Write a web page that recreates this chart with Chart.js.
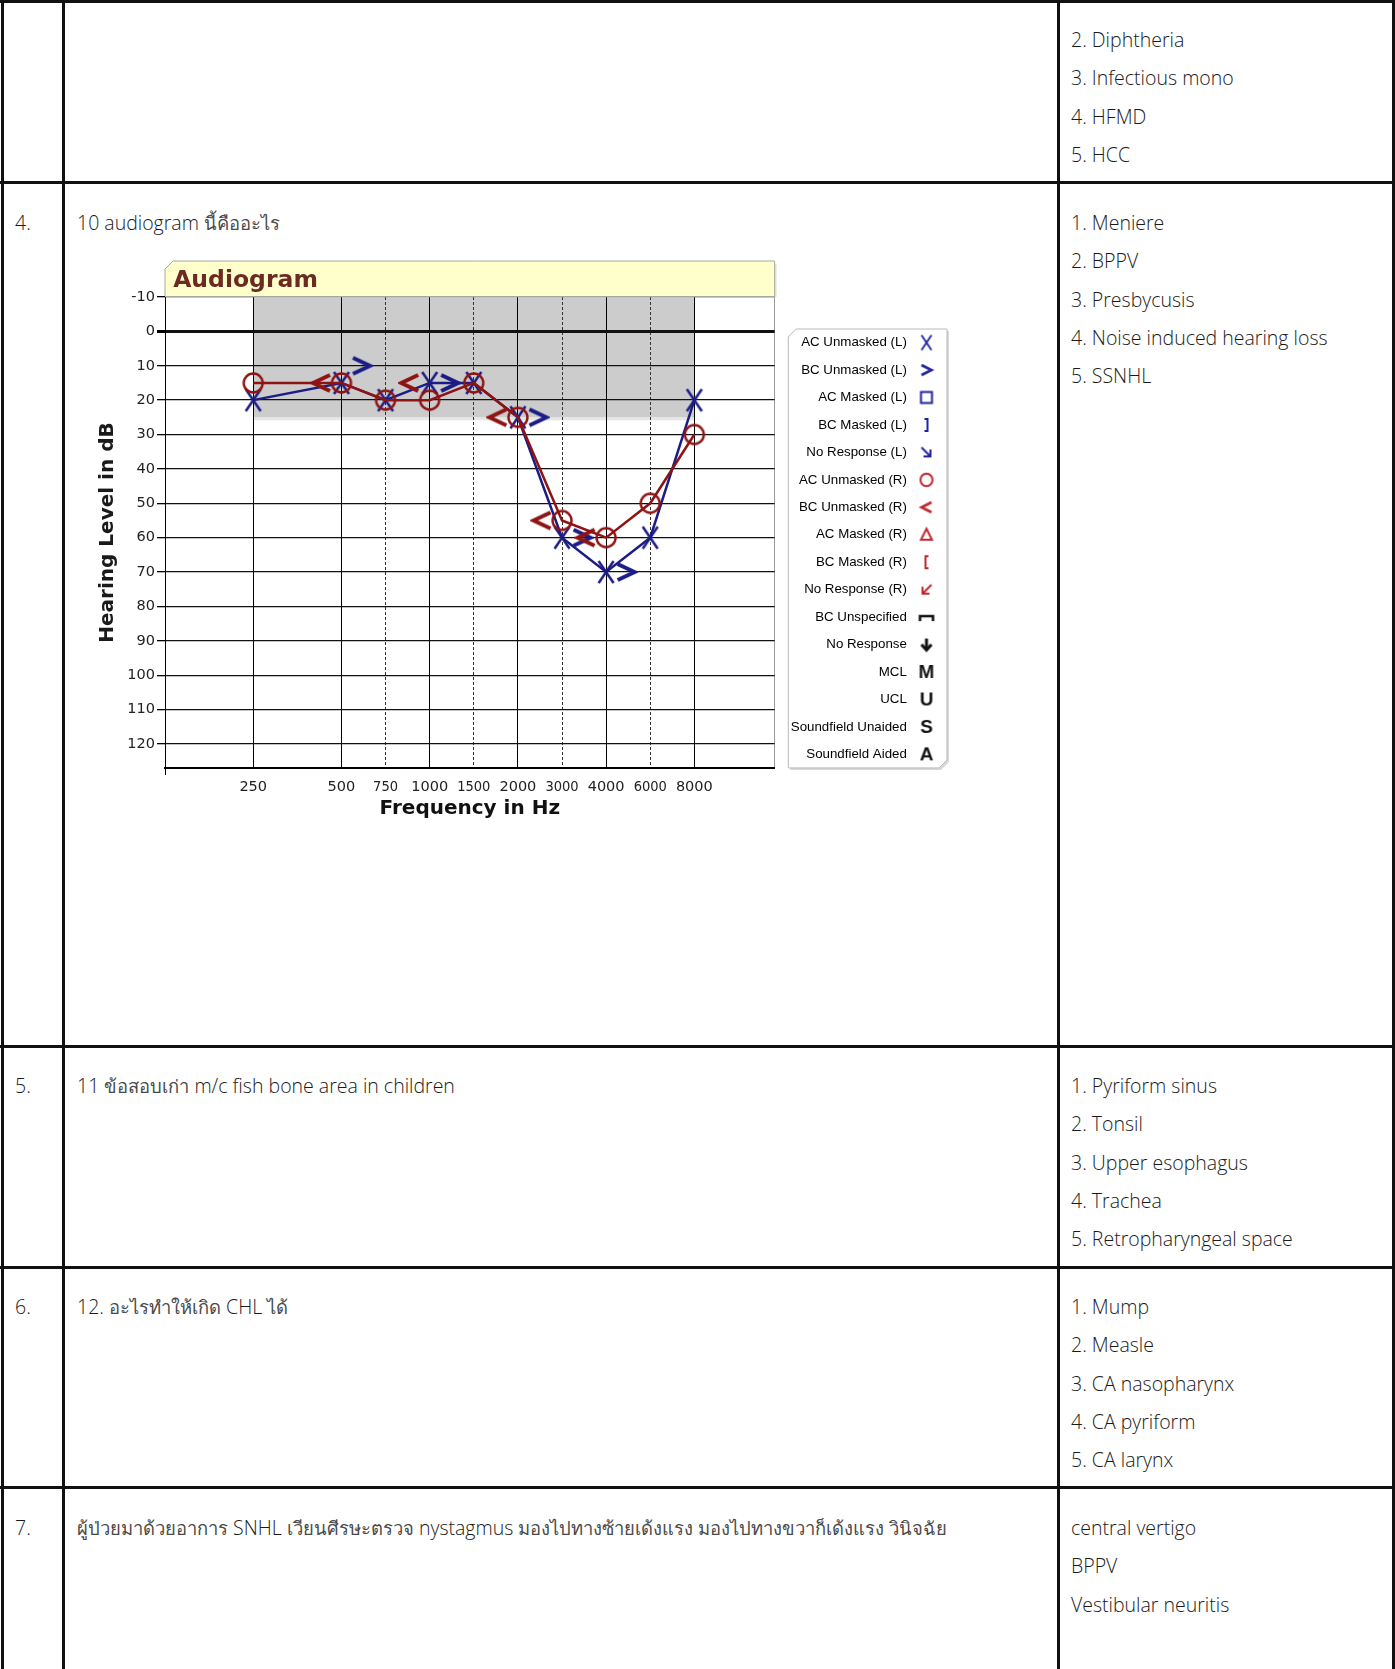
<!DOCTYPE html>
<html>
<head>
<meta charset="utf-8">
<script src="https://cdn.jsdelivr.net/npm/chart.js@4.4.1/dist/chart.umd.min.js"></script>
<style>
  body { margin: 0; background: #fff; }
  #page { position: relative; width: 1395px; height: 1669px; overflow: hidden;
          font-family: "Open Sans", "Noto Sans", sans-serif; font-weight: 300; font-size: 19.5px; color: #1a1a1a; }
  .th { font-family: "Noto Sans", sans-serif; font-weight: 400; font-size: 18.4px; color: #4a4a4a; }
  .hl { position: absolute; left: 0; width: 1395px; height: 2.5px; background: #111; }
  .vl { position: absolute; top: 0; height: 1669px; width: 2.5px; background: #111; }
  .cell { position: absolute; line-height: 38.3px; white-space: nowrap; }
  #chartBox { position: absolute; left: 88px; top: 255px; width: 870px; height: 570px; }
</style>
</head>
<body>
<div id="page">
  <div class="hl" style="top:0"></div>
  <div class="hl" style="top:181px"></div>
  <div class="hl" style="top:1045px"></div>
  <div class="hl" style="top:1266px"></div>
  <div class="hl" style="top:1486px"></div>
  <div class="vl" style="left:1px"></div>
  <div class="vl" style="left:62px"></div>
  <div class="vl" style="left:1057px"></div>
  <div class="vl" style="left:1392px"></div>

  <div class="cell" style="left:1071px;top:21px">2. Diphtheria<br>3. Infectious mono<br>4. HFMD<br>5. HCC</div>

  <div class="cell" style="left:15px;top:204px">4.</div>
  <div class="cell" style="left:77px;top:204px">10 audiogram <span class="th">นี้คืออะไร</span></div>
  <div class="cell" style="left:1071px;top:204px">1. Meniere<br>2. BPPV<br>3. Presbycusis<br>4. Noise induced hearing loss<br>5. SSNHL</div>

  <div class="cell" style="left:15px;top:1067px">5.</div>
  <div class="cell" style="left:77px;top:1067px">11 <span class="th">ข้อสอบเก่า</span> m/c fish bone area in children</div>
  <div class="cell" style="left:1071px;top:1067px">1. Pyriform sinus<br>2. Tonsil<br>3. Upper esophagus<br>4. Trachea<br>5. Retropharyngeal space</div>

  <div class="cell" style="left:15px;top:1288px">6.</div>
  <div class="cell" style="left:77px;top:1288px">12. <span class="th">อะไรทำให้เกิด</span> CHL <span class="th">ได้</span></div>
  <div class="cell" style="left:1071px;top:1288px">1. Mump<br>2. Measle<br>3. CA nasopharynx<br>4. CA pyriform<br>5. CA larynx</div>

  <div class="cell" style="left:15px;top:1509px">7.</div>
  <div class="cell" style="left:77px;top:1509px"><span class="th">ผู้ป่วยมาด้วยอาการ</span> SNHL <span class="th">เวียนศีรษะตรวจ</span> nystagmus <span class="th">มองไปทางซ้ายเด้งแรง มองไปทางขวาก็เด้งแรง วินิจฉัย</span></div>
  <div class="cell" style="left:1071px;top:1509px">central vertigo<br>BPPV<br>Vestibular neuritis</div>

  <div id="chartBox"><canvas id="audiogram" width="870" height="570"></canvas></div>
</div>

<script>
// audiogram data
const freqLabels = ['250', '500', '750', '1000', '1500', '2000', '3000', '4000', '6000', '8000'];
// octaves are 2 units apart, the in-between frequencies sit halfway
const freqPos = [0, 2, 3, 4, 5, 6, 7, 8, 9, 10];
const interOctave = ['750', '1500', '3000', '6000'];

const acLeftDb = [20, 15, 20, 15, 15, 25, 60, 70, 60, 20];
const acRightDb = [15, 15, 20, 20, 15, 25, 55, 60, 50, 30];

const bcLeftFreq = ['500', '1000', '2000', '3000', '4000'];
const bcLeftDb = [10, 15, 25, 60, 70];
const bcRightFreq = ['500', '1000', '2000', '3000', '4000'];
const bcRightDb = [15, 15, 25, 55, 60];

const dbTicks = [-10, 0, 10, 20, 30, 40, 50, 60, 70, 80, 90, 100, 110, 120];
const bandFreq = ['250', '8000'];
const bandDb = [-10, 25];

const legendText = ['AC Unmasked (L)', 'BC Unmasked (L)', 'AC Masked (L)', 'BC Masked (L)', 'No Response (L)',
  'AC Unmasked (R)', 'BC Unmasked (R)', 'AC Masked (R)', 'BC Masked (R)', 'No Response (R)',
  'BC Unspecified', 'No Response', 'MCL', 'UCL', 'Soundfield Unaided', 'Soundfield Aided'];
const legendSymbol = ['X', '>', 'sq', ']', 'nrL', 'O', '<', 'tri', '[', 'nrR', 'bcu', 'down', 'M', 'U', 'S', 'A'];
const legendEar = ['L', 'L', 'L', 'L', 'L', 'R', 'R', 'R', 'R', 'R', '', '', '', '', '', ''];

const BLUE = '#1c1c86';
const RED = '#8e1414';
const earColor = { L: '#23239e', R: '#c0282d', '': '#111' };

const X_MIN = -2, X_MAX = 11.82;
const pos = f => freqPos[freqLabels.indexOf(f)];
const isInterOctave = v => {
  const i = freqPos.indexOf(v);
  return i >= 0 && interOctave.includes(freqLabels[i]);
};
const tickVal = c => (c && c.tick ? c.tick.value : null);

// small canvases used as point styles
function glyph(kind, color, w, h, dx) {
  const c = document.createElement('canvas');
  c.width = w; c.height = h;
  const g = c.getContext('2d');
  const cx = w / 2 + (dx || 0), cy = h / 2;
  g.strokeStyle = color; g.fillStyle = color;
  g.lineJoin = 'miter'; g.miterLimit = 10;
  const path = (pts, lw, close) => {
    g.lineWidth = lw;
    g.beginPath();
    pts.forEach(([px, py], i) => i ? g.lineTo(cx + px, cy + py) : g.moveTo(cx + px, cy + py));
    if (close) g.closePath();
    g.stroke();
  };
  switch (kind) {
    case 'bigX': path([[-7.5, -11], [7.5, 11]], 2.5); path([[7.5, -11], [-7.5, 11]], 2.5); break;
    case 'bigO': g.lineWidth = 2.4; g.beginPath(); g.ellipse(cx, cy, 9.5, 9.5, 0, 0, Math.PI * 2); g.stroke(); break;
    case 'big>': path([[-8.5, -8], [8.5, 0], [-8.5, 8]], 4); break;
    case 'big<': path([[8.5, -8], [-8.5, 0], [8.5, 8]], 4); break;
    case 'X': path([[-5, -7.5], [5, 7.5]], 1.8); path([[5, -7.5], [-5, 7.5]], 1.8); break;
    case '>': path([[-5, -5], [5, 0], [-5, 5]], 2.6); break;
    case '<': path([[5, -5], [-5, 0], [5, 5]], 2.6); break;
    case 'sq': path([[-5.5, -5.5], [5.5, -5.5], [5.5, 5.5], [-5.5, 5.5]], 2, true); break;
    case ']': path([[-2, -6], [1, -6], [1, 6], [-2, 6]], 2); break;
    case '[': path([[2, -6], [-1, -6], [-1, 6], [2, 6]], 2); break;
    case 'nrL': path([[-5, -5], [4, 4]], 2); path([[-3, 4], [4, 4], [4, -3]], 2); break;
    case 'nrR': path([[5, -5], [-4, 4]], 2); path([[3, 4], [-4, 4], [-4, -3]], 2); break;
    case 'O': g.lineWidth = 2; g.beginPath(); g.ellipse(cx, cy, 6, 6.3, 0, 0, Math.PI * 2); g.stroke(); break;
    case 'tri': path([[0, -6], [5.5, 5], [-5.5, 5]], 2, true); break;
    case 'bcu': path([[-6.5, 4], [-6.5, -1], [6.5, -1], [6.5, 4]], 2.6); break;
    case 'down': path([[0, -6], [0, 5]], 3); path([[-5, 0], [0, 5.5], [5, 0]], 3); break;
    default:
      g.font = 'bold 19px "Liberation Sans"';
      g.textAlign = 'center'; g.textBaseline = 'middle';
      g.fillText(kind, cx, cy + 1);
  }
  return c;
}

const legendGlyphs = legendSymbol.map((s, i) => glyph(s, earColor[legendEar[i]], 22, 22));

const LEG_FONT = 13.3, LEG_PAD = 14.15, LEG_BOX = 26;
const LEG_FIRST_Y = 87.6, LEG_SYMBOL_X = 838.5;

const decor = {
  id: 'decor',
  afterLayout(chart) {
    // move the legend column to where it sits in the picture
    const lg = chart.legend;
    const dy = LEG_FIRST_Y - (lg.top + LEG_PAD + LEG_FONT / 2);
    const dx = LEG_SYMBOL_X - (lg.right - LEG_PAD - LEG_BOX / 2);
    lg.top += dy; lg.bottom += dy; lg.left += dx; lg.right += dx;
  },
  beforeDraw(chart) {
    const { ctx, scales: { x, y } } = chart;
    ctx.save();
    // title strip
    const t = chart.titleBlock;
    ctx.fillStyle = '#e4e4dc';
    ctx.fillRect(t.right, t.top + 3, 2, t.bottom - t.top - 3);
    ctx.beginPath();
    ctx.moveTo(t.left, t.top + 8); ctx.lineTo(t.left + 8, t.top);
    ctx.lineTo(t.right, t.top); ctx.lineTo(t.right, t.bottom); ctx.lineTo(t.left, t.bottom);
    ctx.closePath();
    ctx.fillStyle = '#ffffcc'; ctx.fill();
    ctx.strokeStyle = '#a8a8a0'; ctx.lineWidth = 1; ctx.stroke();

    // normal hearing band
    const bx0 = x.getPixelForValue(pos(bandFreq[0])), bx1 = x.getPixelForValue(pos(bandFreq[1]));
    const by0 = y.getPixelForValue(bandDb[0]), by1 = y.getPixelForValue(bandDb[1]);
    ctx.fillStyle = '#e6e6e6';
    ctx.fillRect(bx0, by1, bx1 - bx0, 3);
    ctx.fillStyle = '#cccccc';
    ctx.fillRect(bx0, by0, bx1 - bx0, by1 - by0);

    // legend frame
    const lg = chart.legend;
    const step = LEG_FONT + LEG_PAD;
    const c0 = lg.top + LEG_PAD + LEG_FONT / 2;
    const c1 = c0 + step * (legendText.length - 1);
    const sx = lg.right - LEG_PAD - LEG_BOX / 2;
    ctx.font = LEG_FONT + 'px "Liberation Sans"';
    const textRight = sx - LEG_BOX / 2 - LEG_FONT / 2;
    const maxW = Math.max(...legendText.map(s => ctx.measureText(s).width));
    const fl = textRight - maxW - 2.5, fr = sx + 20.5, ft = c0 - 13.6, fb = c1 + 13.6;
    const frame = (o) => {
      ctx.beginPath();
      ctx.moveTo(fl + o, ft + 8 + o); ctx.lineTo(fl + 8 + o, ft + o); ctx.lineTo(fr + o, ft + o);
      ctx.lineTo(fr + o, fb - 8 + o); ctx.lineTo(fr - 8 + o, fb + o); ctx.lineTo(fl + o, fb + o);
      ctx.closePath();
    };
    frame(2); ctx.fillStyle = '#d8d8d8'; ctx.fill();
    frame(0); ctx.fillStyle = '#ffffff'; ctx.fill();
    ctx.strokeStyle = '#b8b8b8'; ctx.lineWidth = 1; ctx.stroke();
    ctx.restore();
  }
};

const ctx = document.getElementById('audiogram');
new Chart(ctx, {
  type: 'line',
  data: {
    datasets: [
      {
        label: 'BC Unmasked (R)',
        data: bcRightFreq.map((f, i) => ({ x: pos(f), y: bcRightDb[i] })),
        showLine: false,
        pointStyle: glyph('big<', RED, 64, 24, -20),
        pointRadius: 6,
        order: 0
      },
      {
        label: 'BC Unmasked (L)',
        data: bcLeftFreq.map((f, i) => ({ x: pos(f), y: bcLeftDb[i] })),
        showLine: false,
        pointStyle: glyph('big>', BLUE, 64, 24, 20),
        pointRadius: 6,
        order: 1
      },
      {
        label: 'AC Unmasked (R)',
        data: freqLabels.map((f, i) => ({ x: pos(f), y: acRightDb[i] })),
        borderColor: RED,
        borderWidth: 2.5,
        pointStyle: glyph('bigO', RED, 26, 26),
        pointRadius: 6,
        tension: 0,
        order: 2
      },
      {
        label: 'AC Unmasked (L)',
        data: freqLabels.map((f, i) => ({ x: pos(f), y: acLeftDb[i] })),
        borderColor: BLUE,
        borderWidth: 2.5,
        pointStyle: glyph('bigX', BLUE, 22, 28),
        pointRadius: 6,
        tension: 0,
        order: 3
      }
    ]
  },
  options: {
    responsive: false,
    animation: false,
    parsing: false,
    layout: { padding: { top: 6, right: 10.5, left: 0, bottom: 0 } },
    plugins: {
      tooltip: { enabled: false },
      title: {
        display: true,
        text: ' Audiogram',
        align: 'start',
        fullSize: false,
        color: '#6b2a22',
        font: { family: 'DejaVu Sans', size: 23.5, weight: 'bold' },
        padding: { top: 5.5, bottom: 2.3 }
      },
      legend: {
        position: 'right',
        fullSize: false,
        align: 'start',
        rtl: true,
        labels: {
          usePointStyle: true,
          pointStyleWidth: LEG_BOX,
          padding: LEG_PAD,
          color: '#333',
          font: { family: 'Liberation Sans', size: LEG_FONT },
          generateLabels: () => legendText.map((t, i) => ({
            text: t, pointStyle: legendGlyphs[i], fillStyle: 'transparent',
            strokeStyle: 'transparent', lineWidth: 0, hidden: false
          }))
        },
        onClick: null
      }
    },
    scales: {
      x: {
        type: 'linear',
        min: X_MIN,
        max: X_MAX,
        afterFit: s => { s.height = 57; },
        afterBuildTicks: s => {
          s.ticks = [X_MIN, ...freqPos, X_MAX].map(v => ({ value: v }));
        },
        ticks: {
          autoSkip: false,
          maxRotation: 0,
          padding: 3.6,
          color: '#222',
          callback: v => { const i = freqPos.indexOf(v); return i < 0 ? '' : freqLabels[i]; },
          font: c => ({
            family: isInterOctave(tickVal(c)) ? 'DejaVu Sans Condensed' : 'DejaVu Sans',
            size: 14.5
          })
        },
        grid: {
          tickLength: 7,
          color: c => {
            const v = tickVal(c);
            if (v === X_MAX) return '#9a9a9a';
            return isInterOctave(v) ? '#333' : '#000';
          },
          lineWidth: 1,
          tickColor: c => tickVal(c) === X_MIN ? '#000' : 'rgba(0,0,0,0)'
        },
        border: {
          color: '#000',
          width: 2,
          dash: c => isInterOctave(tickVal(c)) ? [3, 2] : []
        },
        title: {
          display: true,
          text: 'Frequency in Hz',
          color: '#111',
          font: { family: 'DejaVu Sans', size: 20, weight: 'bold' },
          padding: { top: 0, bottom: 4 }
        }
      },
      y: {
        type: 'linear',
        reverse: true,
        min: -10,
        max: 127,
        afterFit: s => { s.width = 77; },
        afterBuildTicks: s => { s.ticks = dbTicks.map(v => ({ value: v })); },
        ticks: {
          padding: 2,
          color: '#222',
          font: { family: 'DejaVu Sans', size: 14.5 }
        },
        grid: {
          tickLength: 8,
          tickColor: '#000',
          color: c => tickVal(c) === -10 ? '#a8a8a0' : '#111',
          lineWidth: c => tickVal(c) === 0 ? 3 : 1.3
        },
        border: { color: '#000', width: 1 },
        title: {
          display: true,
          text: 'Hearing Level in dB',
          color: '#1a1a1a',
          font: { family: 'DejaVu Sans', size: 20, weight: 'bold' },
          padding: { top: 8, bottom: 0 }
        }
      }
    }
  },
  plugins: [decor]
});
</script>
</body>
</html>
